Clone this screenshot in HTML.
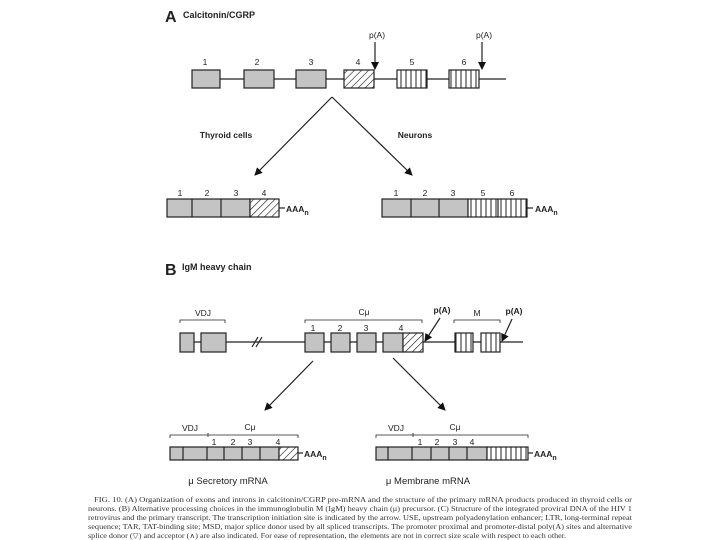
<!DOCTYPE html>
<html><head><meta charset="utf-8"><style>
html,body{margin:0;padding:0;background:#fff;width:720px;height:540px;overflow:hidden}
svg{display:block}
.c{font-family:"Liberation Serif",serif;font-size:7.2px;fill:#333}
</style></head><body>
<svg width="720" height="540" viewBox="0 0 720 540" font-family="Liberation Sans, sans-serif">
<defs>
<pattern id="h" width="5" height="5" patternUnits="userSpaceOnUse" patternTransform="rotate(45)"><rect width="5" height="5" fill="#fff"/><line x1="0" y1="0" x2="0" y2="5" stroke="#222" stroke-width="1.3"/></pattern>
<pattern id="v" width="5" height="10" patternUnits="userSpaceOnUse"><rect width="5" height="10" fill="#fff"/><line x1="1" y1="0" x2="1" y2="10" stroke="#222" stroke-width="1"/></pattern>
<marker id="a" markerWidth="8" markerHeight="8" refX="7" refY="4" orient="auto" markerUnits="userSpaceOnUse"><path d="M0,0 L8,4 L0,8 z" fill="#111"/></marker>
</defs>
<g stroke="#222" stroke-width="1.2">
<!-- Panel A -->
<text x="165" y="22" font-size="16" font-weight="bold" fill="#222" stroke="none">A</text>
<text x="183" y="18" font-size="9" font-weight="bold" fill="#222" stroke="none">Calcitonin/CGRP</text>
<line x1="220" y1="79" x2="506" y2="79"/>
<rect x="192" y="70" width="28" height="18" fill="#c4c4c4"/>
<rect x="244" y="70" width="30" height="18" fill="#c4c4c4"/>
<rect x="296" y="70" width="30" height="18" fill="#c4c4c4"/>
<rect x="344" y="70" width="30" height="18" fill="url(#h)"/>
<rect x="397" y="70" width="30" height="18" fill="url(#v)"/>
<rect x="449" y="70" width="30" height="18" fill="url(#v)"/>
<g stroke="none" fill="#222" font-size="8.5" text-anchor="middle">
<text x="205" y="65">1</text><text x="257" y="65">2</text><text x="311" y="65">3</text><text x="358" y="65">4</text><text x="412" y="65">5</text><text x="464" y="65">6</text>
<text x="377" y="38">p(A)</text><text x="484" y="38">p(A)</text>
<text x="226" y="138" font-weight="bold">Thyroid cells</text><text x="415" y="138" font-weight="bold">Neurons</text>
</g>
<line x1="375" y1="42" x2="375" y2="69" marker-end="url(#a)"/>
<line x1="482" y1="42" x2="482" y2="69" marker-end="url(#a)"/>
<line x1="332" y1="97" x2="255" y2="175" marker-end="url(#a)"/>
<line x1="332" y1="97" x2="412" y2="175" marker-end="url(#a)"/>
<rect x="167" y="199" width="83" height="18" fill="#c4c4c4"/>
<line x1="192" y1="199" x2="192" y2="217"/><line x1="221" y1="199" x2="221" y2="217"/>
<rect x="250" y="199" width="29" height="18" fill="url(#h)"/>
<line x1="279" y1="208" x2="285" y2="208"/>
<rect x="382" y="199" width="86" height="18" fill="#c4c4c4"/>
<line x1="411" y1="199" x2="411" y2="217"/><line x1="439" y1="199" x2="439" y2="217"/>
<rect x="468" y="199" width="59" height="18" fill="url(#v)"/>
<line x1="498" y1="199" x2="498" y2="217"/>
<line x1="527" y1="208" x2="533" y2="208"/>
<g stroke="none" fill="#222" font-size="8.5" text-anchor="middle">
<text x="180" y="196">1</text><text x="207" y="196">2</text><text x="236" y="196">3</text><text x="264" y="196">4</text>
<text x="396" y="196">1</text><text x="425" y="196">2</text><text x="453" y="196">3</text><text x="483" y="196">5</text><text x="512" y="196">6</text>
<text x="286" y="212" text-anchor="start" font-weight="bold">AAA<tspan font-size="7" dy="3">n</tspan></text>
<text x="535" y="212" text-anchor="start" font-weight="bold">AAA<tspan font-size="7" dy="3">n</tspan></text>
</g>
<!-- Panel B -->
<text x="165" y="275" font-size="16" font-weight="bold" fill="#222" stroke="none">B</text>
<text x="182" y="270" font-size="9" font-weight="bold" fill="#222" stroke="none">IgM heavy chain</text>
<line x1="194" y1="342" x2="523" y2="342"/>
<line x1="252" y1="347" x2="258" y2="337"/><line x1="256" y1="347" x2="262" y2="337"/>
<rect x="180" y="333" width="14" height="19" fill="#c4c4c4"/>
<rect x="201" y="333" width="25" height="19" fill="#c4c4c4"/>
<rect x="305" y="333" width="19" height="19" fill="#c4c4c4"/>
<rect x="331" y="333" width="19" height="19" fill="#c4c4c4"/>
<rect x="357" y="333" width="19" height="19" fill="#c4c4c4"/>
<rect x="383" y="333" width="20" height="19" fill="#c4c4c4"/>
<rect x="403" y="333" width="20" height="19" fill="url(#h)"/>
<rect x="455" y="333" width="18" height="19" fill="url(#v)"/>
<rect x="481" y="333" width="19" height="19" fill="url(#v)"/>
<g stroke-width="0.8" fill="none">
<path d="M180,323 V320 H225 V323"/><path d="M305,323 V320 H422 V323"/><path d="M454,323 V320 H500 V323"/>
</g>
<g stroke="none" fill="#222" font-size="8.5" text-anchor="middle">
<text x="203" y="316">VDJ</text><text x="364" y="315">Cμ</text><text x="477" y="316">M</text>
<text x="313" y="331">1</text><text x="340" y="331">2</text><text x="366" y="331">3</text><text x="401" y="331">4</text>
<text x="442" y="313" font-weight="bold">p(A)</text><text x="514" y="314" font-weight="bold">p(A)</text>
</g>
<line x1="440" y1="318" x2="425" y2="341" marker-end="url(#a)"/>
<line x1="512" y1="319" x2="502" y2="341" marker-end="url(#a)"/>
<line x1="313" y1="361" x2="265" y2="410" marker-end="url(#a)"/>
<line x1="393" y1="358" x2="445" y2="410" marker-end="url(#a)"/>
<g stroke-width="0.8" fill="none">
<path d="M170,438 V435 H298 V438"/><line x1="208" y1="433" x2="208" y2="437"/>
<path d="M376,438 V435 H528 V438"/><line x1="413" y1="433" x2="413" y2="437"/>
</g>
<rect x="170" y="447" width="109" height="13" fill="#c4c4c4"/>
<line x1="183" y1="447" x2="183" y2="460"/><line x1="207" y1="447" x2="207" y2="460"/><line x1="224" y1="447" x2="224" y2="460"/><line x1="242" y1="447" x2="242" y2="460"/><line x1="260" y1="447" x2="260" y2="460"/>
<rect x="279" y="447" width="19" height="13" fill="url(#h)"/>
<line x1="298" y1="453" x2="303" y2="453"/>
<rect x="376" y="447" width="111" height="13" fill="#c4c4c4"/>
<line x1="388" y1="447" x2="388" y2="460"/><line x1="412" y1="447" x2="412" y2="460"/><line x1="431" y1="447" x2="431" y2="460"/><line x1="449" y1="447" x2="449" y2="460"/><line x1="467" y1="447" x2="467" y2="460"/>
<rect x="487" y="447" width="41" height="13" fill="url(#v)"/>
<line x1="528" y1="453" x2="533" y2="453"/>
<g stroke="none" fill="#222" font-size="8.5" text-anchor="middle">
<text x="190" y="431">VDJ</text><text x="250" y="430">Cμ</text>
<text x="396" y="431">VDJ</text><text x="455" y="430">Cμ</text>
<text x="214" y="445">1</text><text x="233" y="445">2</text><text x="250" y="445">3</text><text x="278" y="445">4</text>
<text x="420" y="445">1</text><text x="437" y="445">2</text><text x="455" y="445">3</text><text x="472" y="445">4</text>
<text x="304" y="457" text-anchor="start" font-weight="bold">AAA<tspan font-size="7" dy="3">n</tspan></text>
<text x="534" y="457" text-anchor="start" font-weight="bold">AAA<tspan font-size="7" dy="3">n</tspan></text>
<text x="228" y="484" font-size="9.5">μ Secretory mRNA</text>
<text x="428" y="484" font-size="9.5">μ Membrane mRNA</text>
</g>
</g>
<text class="c" x="94" y="502" textLength="538" lengthAdjust="spacingAndGlyphs">FIG. 10. (A) Organization of exons and introns in calcitonin/CGRP pre-mRNA and the structure of the primary mRNA products produced in thyroid cells or</text>
<text class="c" x="88" y="511" textLength="544" lengthAdjust="spacingAndGlyphs">neurons. (B) Alternative processing choices in the immunoglobulin M (IgM) heavy chain (μ) precursor. (C) Structure of the integrated proviral DNA of the HIV 1</text>
<text class="c" x="88" y="520" textLength="544" lengthAdjust="spacingAndGlyphs">retrovirus and the primary transcript. The transcription initiation site is indicated by the arrow. USE, upstream polyadenylation enhancer; LTR, long-terminal repeat</text>
<text class="c" x="88" y="529" textLength="544" lengthAdjust="spacingAndGlyphs">sequence; TAR, TAT-binding site; MSD, major splice donor used by all spliced transcripts. The promoter proximal and promoter-distal poly(A) sites and alternative</text>
<text class="c" x="88" y="538" textLength="478" lengthAdjust="spacingAndGlyphs">splice donor (▽) and acceptor (∧) are also indicated. For ease of representation, the elements are not in correct size scale with respect to each other.</text>
</svg>
</body></html>
